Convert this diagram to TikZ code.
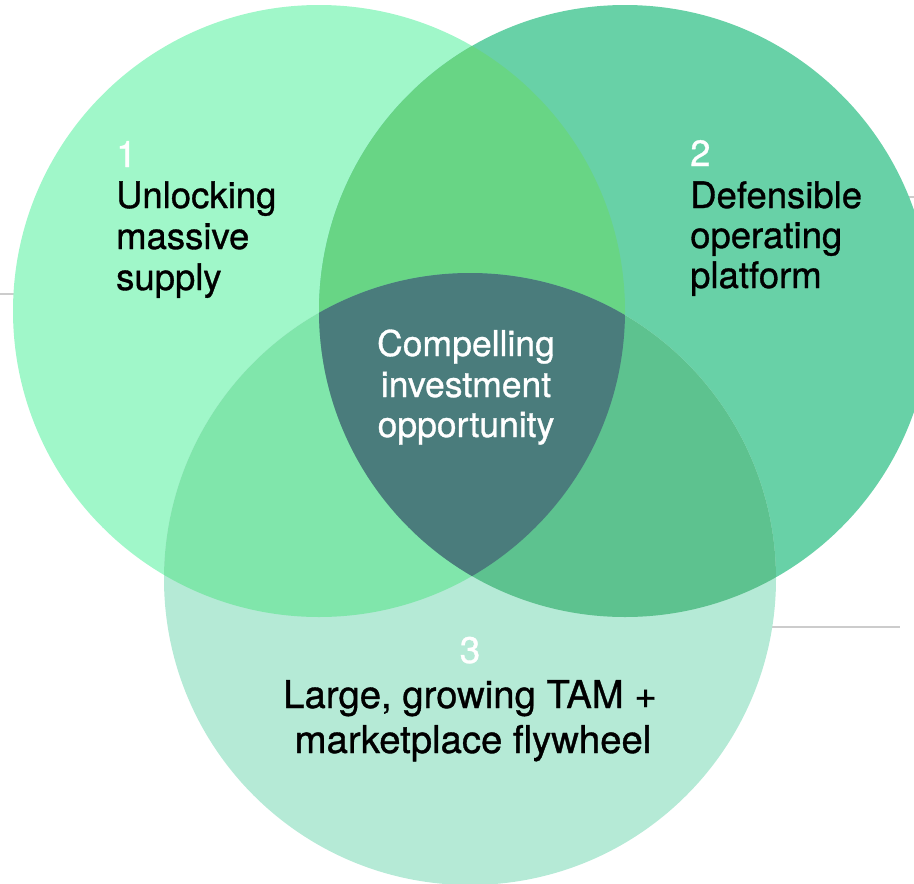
\documentclass[tikz,border=0pt]{standalone}
\usepackage{fontspec}
\setmainfont[FakeBold=0.9]{TeX Gyre Heros}
\definecolor{cLeft}{HTML}{A0F7C9}
\definecolor{cRight}{HTML}{68D1A7}
\definecolor{cBottom}{HTML}{B5EAD6}
\definecolor{cLR}{HTML}{68D585}
\definecolor{cLB}{HTML}{80E6AB}
\definecolor{cRB}{HTML}{5DC28F}
\definecolor{cCore}{HTML}{4A7C7C}
\definecolor{cRule}{HTML}{CCCCCC}
\begin{document}
\begin{tikzpicture}[x=1pt,y=-1pt,
  rule/.style={draw=cRule,line width=1.6pt},
  numlabel/.style={inner sep=0pt,text=white,font=\fontsize{36.5}{41}\selectfont},
  toplabel/.style={inner sep=0pt,text=black,font=\fontsize{36.5}{41}\selectfont},
  corelabel/.style={inner sep=0pt,text=white,font=\fontsize{35.5}{41}\selectfont},
  botlabel/.style={inner sep=0pt,text=black,font=\fontsize{38.3}{45}\selectfont},
  botnum/.style={inner sep=0pt,text=white,font=\fontsize{37}{45}\selectfont}]
\useasboundingbox (0,0) rectangle (914,884);

% circle centres and radius
\def\rad{306}
\coordinate (cL) at (319,311);
\coordinate (cR) at (625,311);
\coordinate (cB) at (470,579);

% thin guide rules running behind the circles
\coordinate (ra1) at (0,294);   \coordinate (ra2) at (60,294);
\coordinate (rb1) at (700,627); \coordinate (rb2) at (900,627);
\coordinate (rc1) at (850,197); \coordinate (rc2) at (914,197);
\draw[rule] (ra1) -- (ra2);
\draw[rule] (rb1) -- (rb2);
\draw[rule] (rc1) -- (rc2);

% single-set regions
\fill[cLeft] (cL) circle (\rad);
\fill[cRight] (cR) circle (\rad);
\fill[cBottom] (cB) circle (\rad);

% pairwise overlaps
\begin{scope}
  \clip (cL) circle (\rad);
  \fill[cLR] (cR) circle (\rad);
\end{scope}
\begin{scope}
  \clip (cL) circle (\rad);
  \fill[cLB] (cB) circle (\rad);
\end{scope}
\begin{scope}
  \clip (cR) circle (\rad);
  \fill[cRB] (cB) circle (\rad);
\end{scope}

% triple overlap
\begin{scope}
  \clip (cL) circle (\rad);
  \clip (cR) circle (\rad);
  \fill[cCore] (cB) circle (\rad);
\end{scope}

% circle 1 text
\node[numlabel,anchor=base west] (n1) at (116,167) {1};
\node[toplabel,anchor=base west] (t1a) at (116,208) {Unlocking};
\node[toplabel,anchor=base west] (t1b) at (116,249) {massive};
\node[toplabel,anchor=base west] (t1c) at (116,290) {supply};

% circle 2 text
\node[numlabel,anchor=base west] (n2) at (690,166) {2};
\node[toplabel,anchor=base west] (t2a) at (690,208) {Defensible};
\node[toplabel,anchor=base west] (t2b) at (690,248) {operating};
\node[toplabel,anchor=base west] (t2c) at (690,288) {platform};

% centre text
\node[corelabel,anchor=base] (c1) at (466,356) {Compelling};
\node[corelabel,anchor=base] (c2) at (466,397) {investment};
\node[corelabel,anchor=base] (c3) at (466,437) {opportunity};

% circle 3 text
\node[botnum,anchor=base] (n3) at (470,663) {3};
\node[botlabel,anchor=base] (t3a) at (470,708) {Large, growing TAM +};
\node[botlabel,anchor=base] (t3b) at (473,753) {marketplace flywheel};
\end{tikzpicture}
\end{document}
